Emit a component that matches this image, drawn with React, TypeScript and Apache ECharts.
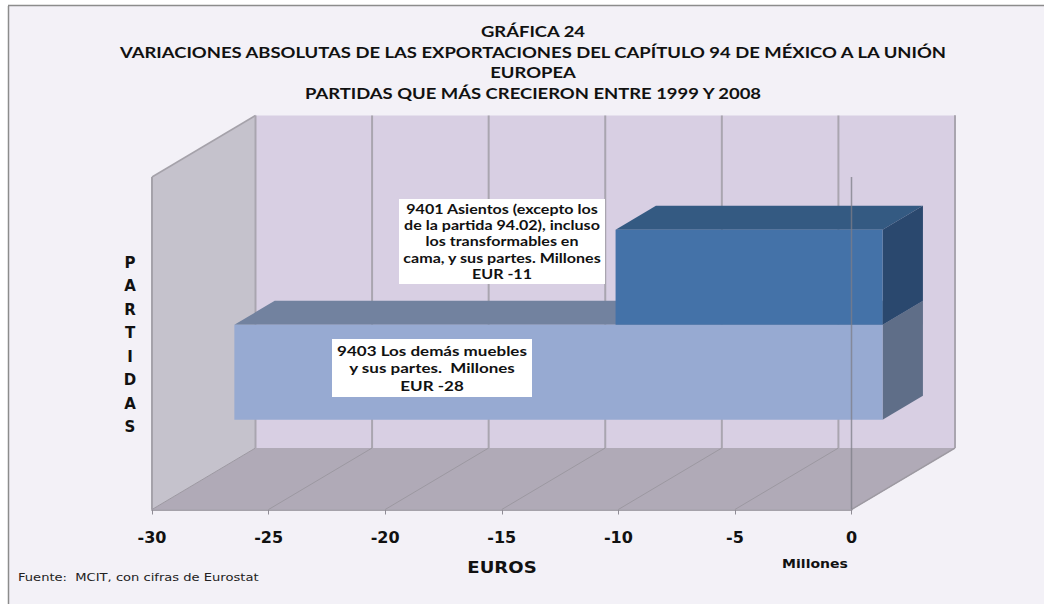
import React, { useEffect, useRef } from "react";
import * as echarts from "echarts";

const titleLines = [
  "GRÁFICA 24",
  "VARIACIONES ABSOLUTAS DE LAS EXPORTACIONES DEL CAPÍTULO 94 DE MÉXICO A LA UNIÓN",
  "EUROPEA",
  "PARTIDAS QUE MÁS CRECIERON ENTRE 1999 Y 2008",
];
const categories = ["Partidas"];
const ticks = [-30, -25, -20, -15, -10, -5, 0];
const values9403 = [-27.8];
const values9401 = [-11.45];
const label9401 = [
  "9401 Asientos (excepto los",
  "de la partida 94.02), incluso",
  "los transformables en",
  "cama, y sus partes. Millones",
  "EUR -11",
];
const label9403 = ["9403 Los demás muebles", "y sus partes.  Millones", "EUR -28"];

const LATO = "Lato, sans-serif";
const DEJAVU = "'DejaVu Sans', sans-serif";
const DX = 103.5;
const DY = -61.5;
const BAR_NEAR = 0.3;
const BAR_FAR = 0.69;
const BAR_H = 95;

const poly = (points: number[][], fill: string, stroke?: string, width = 1) => ({
  type: "polygon",
  shape: { points },
  style: { fill, stroke: stroke || "none", lineWidth: stroke ? width : 0 },
  silent: true,
});
const seg = (a: number[], b: number[], stroke: string, width: number) => ({
  type: "line",
  shape: { x1: a[0], y1: a[1], x2: b[0], y2: b[1] },
  style: { stroke, lineWidth: width, fill: "none" },
  silent: true,
});

const wallsRender = (_p: any, api: any) => {
  const h = api.size([0, 1])[1];
  const [x0, cy] = api.coord([-30, 0]);
  const [x1] = api.coord([0, 0]);
  const bottom = cy + h / 2;
  const top = cy - h / 2;
  return {
    type: "group",
    children: [
      poly([[x0 + DX, top + DY], [x1 + DX, top + DY], [x1 + DX, bottom + DY], [x0 + DX, bottom + DY]], "#d8cfe3"),
      poly([[x0, top], [x0 + DX, top + DY], [x0 + DX, bottom + DY], [x0, bottom]], "#c5c2cc"),
      poly([[x0, bottom], [x1, bottom], [x1 + DX, bottom + DY], [x0 + DX, bottom + DY]], "#b0aab7"),
      seg([x0, top], [x0 + DX, top + DY], "#a5a2aa", 1.5),
      seg([x0, top], [x0, bottom], "#a5a2aa", 2),
      seg([x1, bottom], [x1 + DX, bottom + DY], "#a5a2aa", 1.5),
      seg([x1 + DX, bottom + DY], [x1 + DX, top + DY], "#a5a2aa", 2),
    ],
  };
};

const ticksRender = (_p: any, api: any) => {
  const h = api.size([0, 1])[1];
  const [x, cy] = api.coord([api.value(0), 0]);
  const bottom = cy + h / 2;
  const top = cy - h / 2;
  return {
    type: "group",
    children: [
      seg([x, bottom], [x + DX, bottom + DY], "#9c98a1", 1),
      seg([x + DX, bottom + DY], [x + DX, top + DY], "#a9a5af", 2),
    ],
  };
};

const barRender = (front: string, topC: string, side: string, above: boolean) => (_p: any, api: any) => {
  const [xv, cy] = api.coord([api.value(0), 0]);
  const [xz] = api.coord([0, 0]);
  const nx = DX * BAR_NEAR;
  const ny = DY * BAR_NEAR;
  const fx = DX * BAR_FAR;
  const fy = DY * BAR_FAR;
  const top = cy + ny + (above ? -BAR_H : 0);
  const bot = top + BAR_H;
  const L = xv + nx;
  const R = xz + nx;
  const bx = fx - nx;
  const by = fy - ny;
  return {
    type: "group",
    children: [
      poly([[L, top], [R, top], [R + bx, top + by], [L + bx, top + by]], topC),
      poly([[R, top], [R + bx, top + by], [R + bx, bot + by], [R, bot]], side),
      poly([[L, top], [R, top], [R, bot], [L, bot]], front),
    ],
  };
};

const zeroRender = (_p: any, api: any) => {
  const h = api.size([0, 1])[1];
  const [x, cy] = api.coord([0, 0]);
  return seg([x, cy - h / 2], [x, cy + h / 2], "rgba(125,125,135,0.75)", 1.5);
};

const noAxisEvents = { silent: true, tooltip: { show: false } };

const label = (x: number, y: number, text: string, font: string, lh?: number, scaleX = 1, align = "center", fill = "#111111") => ({
  type: "text",
  x,
  y,
  scaleX,
  z: 51,
  style: { text, font, fill, align, verticalAlign: "middle", ...(lh ? { lineHeight: lh } : {}) },
});

const textBox = (x: number, y: number, w: number, h: number, lines: string[], lh: number, size: number, sx: number) => [
  { type: "rect", shape: { x, y, width: w, height: h }, style: { fill: "#ffffff" }, z: 50 },
  label(x + w / 2, y + h / 2, lines.join("\n"), `bold ${size}px ${LATO}`, lh, sx),
];

export default function App() {
  const ref = useRef<HTMLDivElement>(null);
  useEffect(() => {
    const chart = echarts.init(ref.current!, undefined, { renderer: "svg" });
    chart.setOption({
      animation: false,
      backgroundColor: "#f3f1f7",
      grid: { left: 152, top: 177, width: 699.5, height: 332.5, containLabel: false },
      xAxis: {
        type: "value",
        min: -30,
        max: 0,
        interval: 5,
        splitLine: { show: false },
        axisLine: { show: true, onZero: false, lineStyle: { color: "#a5a2aa", width: 2 } },
        axisTick: { show: true, length: 5, lineStyle: { color: "#8f8c95", width: 1 } },
        axisLabel: { margin: 20, color: "#111111", fontFamily: DEJAVU, fontWeight: "bold", fontSize: 16 },
      },
      yAxis: { type: "category", data: categories, show: false },
      series: [
        { type: "custom", name: "walls", data: [[0, 0]], renderItem: wallsRender, clip: false, z: 1, ...noAxisEvents },
        { type: "custom", name: "ticks", data: ticks.map((t) => [t, 0]), renderItem: ticksRender, clip: false, z: 2, ...noAxisEvents },
        {
          type: "custom",
          name: "9403",
          data: values9403.map((v, i) => [v, i]),
          renderItem: barRender("#97aad2", "#72829f", "#5f6e88", false),
          clip: false,
          z: 3,
          ...noAxisEvents,
        },
        {
          type: "custom",
          name: "9401",
          data: values9401.map((v, i) => [v, i]),
          renderItem: barRender("#4472a8", "#345a82", "#2a486e", true),
          clip: false,
          z: 4,
          ...noAxisEvents,
        },
        { type: "custom", name: "zero", data: [[0, 0]], renderItem: zeroRender, clip: false, z: 5, ...noAxisEvents },
      ],
      graphic: [
        { type: "rect", shape: { x: 0, y: 0, width: 8, height: 604 }, style: { fill: "#ffffff" }, z: 59 },
        { type: "rect", shape: { x: 0, y: 0, width: 1044, height: 5 }, style: { fill: "#ffffff" }, z: 59 },
        { type: "line", shape: { x1: 8.5, y1: 6, x2: 8.5, y2: 604 }, style: { stroke: "#8c8c8c", lineWidth: 1.5 }, z: 60 },
        { type: "line", shape: { x1: 8, y1: 5.5, x2: 1044, y2: 5.5 }, style: { stroke: "#8c8c8c", lineWidth: 1.5 }, z: 60 },
        label(533, 62, titleLines.join("\n"), `bold 16px ${LATO}`, 20.7, 1.152),
        ...textBox(399, 199, 206, 85, label9401, 16.3, 13, 1.236),
        ...textBox(332, 339, 200, 58, label9403, 17.5, 13.5, 1.26),
        label(130, 345, "P\nA\nR\nT\nI\nD\nA\nS", `bold 15px ${DEJAVU}`, 23.5),
        label(502, 567, "EUROS", `bold 16px ${DEJAVU}`, undefined, 1.13),
        label(815, 564, "Millones", `bold 12px ${DEJAVU}`, undefined, 1.17),
        label(18, 577, "Fuente:  MCIT, con cifras de Eurostat", `11px ${DEJAVU}`, undefined, 1.19, "left", "#222222"),
      ],
    });
    return () => chart.dispose();
  }, []);
  return <div ref={ref} style={{ position: "fixed", left: 0, top: 0, width: 1044, height: 604 }} />;
}
